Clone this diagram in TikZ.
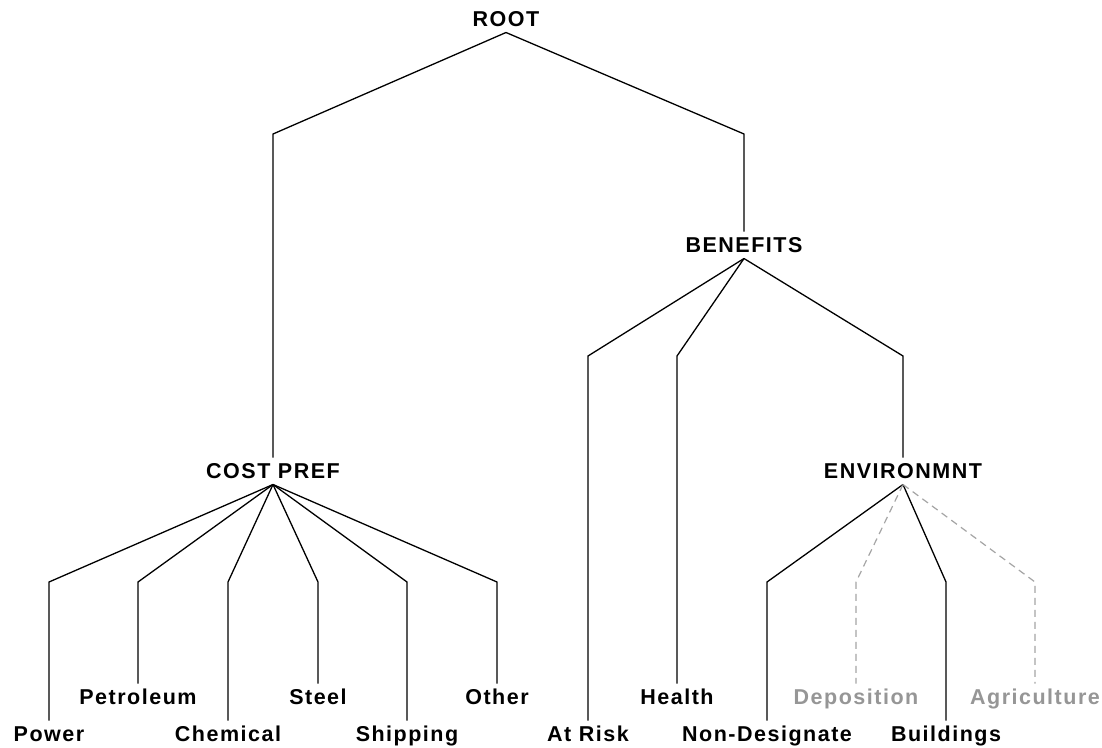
\documentclass[tikz,border=0pt]{standalone}
\usepackage{fontspec}
\setmainfont{Liberation Sans}[LetterSpace=7]
\definecolor{dimtext}{RGB}{150,150,150}
\definecolor{dimline}{RGB}{165,165,165}
\begin{document}
\begin{tikzpicture}[x=1pt,y=-1pt,
  lbl/.style={font=\fontsize{21.5}{24}\selectfont\bfseries, inner sep=0pt, outer sep=6pt,
              text height=15pt, text depth=0pt, anchor=center},
  dim/.style={lbl, text=dimtext},
  edge/.style={line width=1.3pt, black},
  dimedge/.style={line width=1.2pt, dimline, dash pattern=on 7pt off 5pt}]
\fill[white] (0,0) rectangle (1102,747);
\useasboundingbox (0,0) rectangle (1102,747);

% inner nodes
\node[lbl] (root) at (506,19) {ROOT};
\node[lbl] (costpref) at (273,471) {COST PREF};
\node[lbl] (benefits) at (744,245) {BENEFITS};
\node[lbl] (env) at (903,471) {ENVIRONMNT};

% leaves
\node[lbl] (power) at (49,734) {Power};
\node[lbl] (petroleum) at (138,697) {Petroleum};
\node[lbl] (chemical) at (228,734) {Chemical};
\node[lbl] (steel) at (318,697) {Steel};
\node[lbl] (shipping) at (407,734) {Shipping};
\node[lbl] (other) at (497,697) {Other};
\node[lbl] (atrisk) at (588,734) {At Risk};
\node[lbl] (health) at (677,697) {Health};
\node[lbl] (nondes) at (767,734) {Non-Designate};
\node[dim] (deposition) at (856,697) {Deposition};
\node[lbl] (buildings) at (946,734) {Buildings};
\node[dim] (agriculture) at (1035,697) {Agriculture};

% corners
\coordinate (kcost) at (273,134);
\coordinate (kben) at (744,134);
\coordinate (katrisk) at (588,356);
\coordinate (khealth) at (677,356);
\coordinate (kenv) at (903,356);
\coordinate (kpower) at (49,582);
\coordinate (kpetro) at (138,582);
\coordinate (kchem) at (228,582);
\coordinate (ksteel) at (318,582);
\coordinate (kship) at (407,582);
\coordinate (kother) at (497,582);
\coordinate (knondes) at (767,582);
\coordinate (kdepo) at (856,582);
\coordinate (kbuild) at (946,582);
\coordinate (kagri) at (1035,582);

% connectors
\draw[edge] (root.south) -- (kcost) -- (costpref.north);
\draw[edge] (root.south) -- (kben) -- (benefits.north);

\draw[edge] (benefits.south) -- (katrisk) -- (atrisk.north);
\draw[edge] (benefits.south) -- (khealth) -- (health.north);
\draw[edge] (benefits.south) -- (kenv) -- (env.north);

\draw[edge] (costpref.south) -- (kpower) -- (power.north);
\draw[edge] (costpref.south) -- (kpetro) -- (petroleum.north);
\draw[edge] (costpref.south) -- (kchem) -- (chemical.north);
\draw[edge] (costpref.south) -- (ksteel) -- (steel.north);
\draw[edge] (costpref.south) -- (kship) -- (shipping.north);
\draw[edge] (costpref.south) -- (kother) -- (other.north);

\draw[edge] (env.south) -- (knondes) -- (nondes.north);
\draw[dimedge] (env.south) -- (kdepo) -- (deposition.north);
\draw[edge] (env.south) -- (kbuild) -- (buildings.north);
\draw[dimedge] (env.south) -- (kagri) -- (agriculture.north);
\end{tikzpicture}
\end{document}
